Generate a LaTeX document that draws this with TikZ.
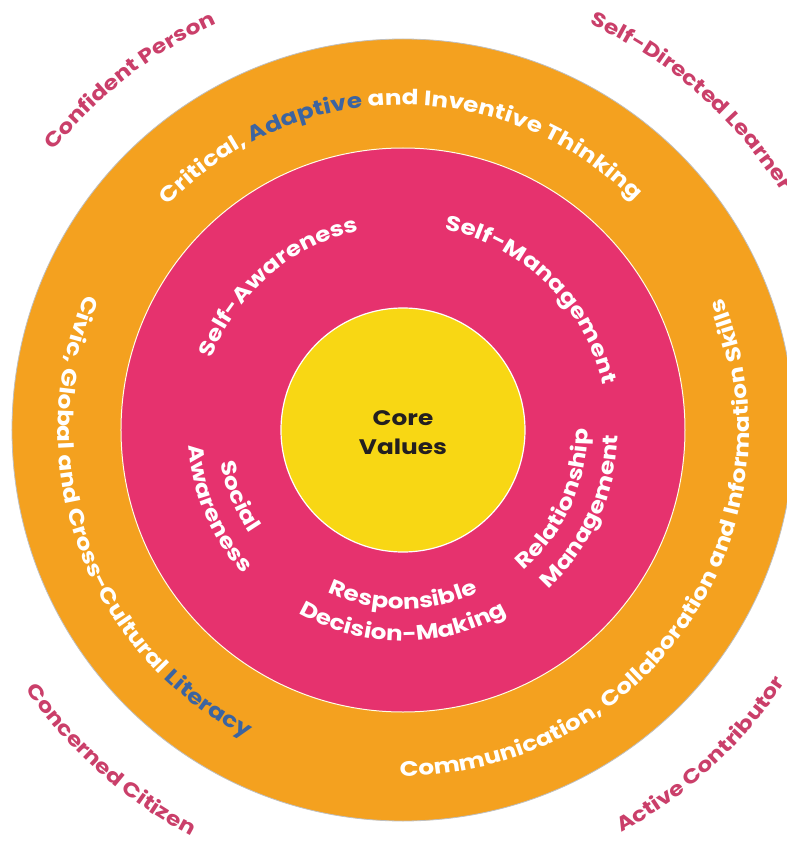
\documentclass[tikz,border=0pt]{standalone}
\usepackage{fontspec}
\setmainfont{Poppins}[FakeStretch=1.18]
\usetikzlibrary{decorations.text}

\definecolor{ringorange}{HTML}{F4A11F}
\definecolor{ringpink}{HTML}{E6326E}
\definecolor{coreyellow}{HTML}{F8D714}
\definecolor{outcomerose}{HTML}{CA3F6A}
\definecolor{skillblue}{HTML}{3C64A0}
\definecolor{coretext}{HTML}{231F20}

\newcommand\ringfont{\fontsize{21}{24}\selectfont\bfseries}
\newcommand\outfont{\fontsize{20}{24}\selectfont\bfseries}

\begin{document}
\begin{tikzpicture}[x=1pt,y=1pt]
  \tikzset{arctext/.style = {decorate,
    decoration = {text along path, text align=center, text={#1}}}}
  \useasboundingbox (-403,-411) rectangle (384,430);
  \clip (-403,-411) rectangle (384,430);
  % rings
  \coordinate (hub) at (0,0);
  \filldraw[fill=ringorange, draw=gray!50, line width=0.8pt] (hub) circle[radius=391pt];
  \filldraw[fill=ringpink, draw=white!90!yellow, line width=1pt] (hub) circle[radius=282pt];
  \filldraw[fill=coreyellow, draw=white, line width=1.2pt] (hub) circle[radius=122pt];
  \node[font=\fontsize{21}{29}\selectfont\bfseries, text=coretext, align=center]
    (corevalues) at (0,-3) {Core\\Values};
  % outer ring: competencies
  \path[arctext={|\ringfont\color{white}|Critical, |\ringfont\color{skillblue}|Adaptive|\ringfont\color{white}| and Inventive Thinking}]
    (178:325pt) arc[start angle=178, end angle=3, radius=325pt];
  \path[arctext={|\ringfont\color{white}|Civic, Global and Cross-Cultural |\ringfont\color{skillblue}|Literacy}]
    (110:345pt) arc[start angle=110, end angle=290, radius=345pt];
  \path[arctext={|\ringfont\color{white}|Communication, Collaboration and Information Skills}]
    (226:346pt) arc[start angle=226, end angle=426, radius=346pt];
  % inner ring
  \path[arctext={|\ringfont\color{white}|Self-Awareness}]
    (200:204pt) arc[start angle=200, end angle=62, radius=204pt];
  \path[arctext={|\ringfont\color{white}|Self-Management}]
    (115:205pt) arc[start angle=115, end angle=-24, radius=205pt];
  \path[arctext={|\ringfont\color{white}|Social}]
    (132:185pt) arc[start angle=132, end angle=272, radius=185pt];
  \path[arctext={|\ringfont\color{white}|Awareness}]
    (133:215pt) arc[start angle=133, end angle=273, radius=215pt];
  \path[arctext={|\ringfont\color{white}|Relationship}]
    (-95:185pt) arc[start angle=-95, end angle=46, radius=185pt];
  \path[arctext={|\ringfont\color{white}|Management}]
    (-95:215pt) arc[start angle=-95, end angle=46, radius=215pt];
  \path[arctext={|\ringfont\color{white}|Responsible}]
    (-160:179pt) arc[start angle=-160, end angle=-20, radius=179pt];
  \path[arctext={|\ringfont\color{white}|Decision-Making}]
    (-160:211pt) arc[start angle=-160, end angle=-20, radius=211pt];
  % outcomes outside
  \path[arctext={|\outfont\color{outcomerose}|Confident Person}]
    (170:447pt) arc[start angle=170, end angle=86, radius=447pt];
  \path[decorate, decoration={text along path, text align=left,
    text={|\outfont\color{outcomerose}|Self-Directed Learner}}]
    (65.3:447pt) arc[start angle=65.3, end angle=-20, radius=447pt];
  \path[arctext={|\outfont\color{outcomerose}|Concerned Citizen}]
    (190:458pt) arc[start angle=190, end angle=267, radius=458pt];
  \path[arctext={|\outfont\color{outcomerose}|Active Contributor}]
    (-85:458pt) arc[start angle=-85, end angle=-10, radius=458pt];
\end{tikzpicture}
\end{document}
